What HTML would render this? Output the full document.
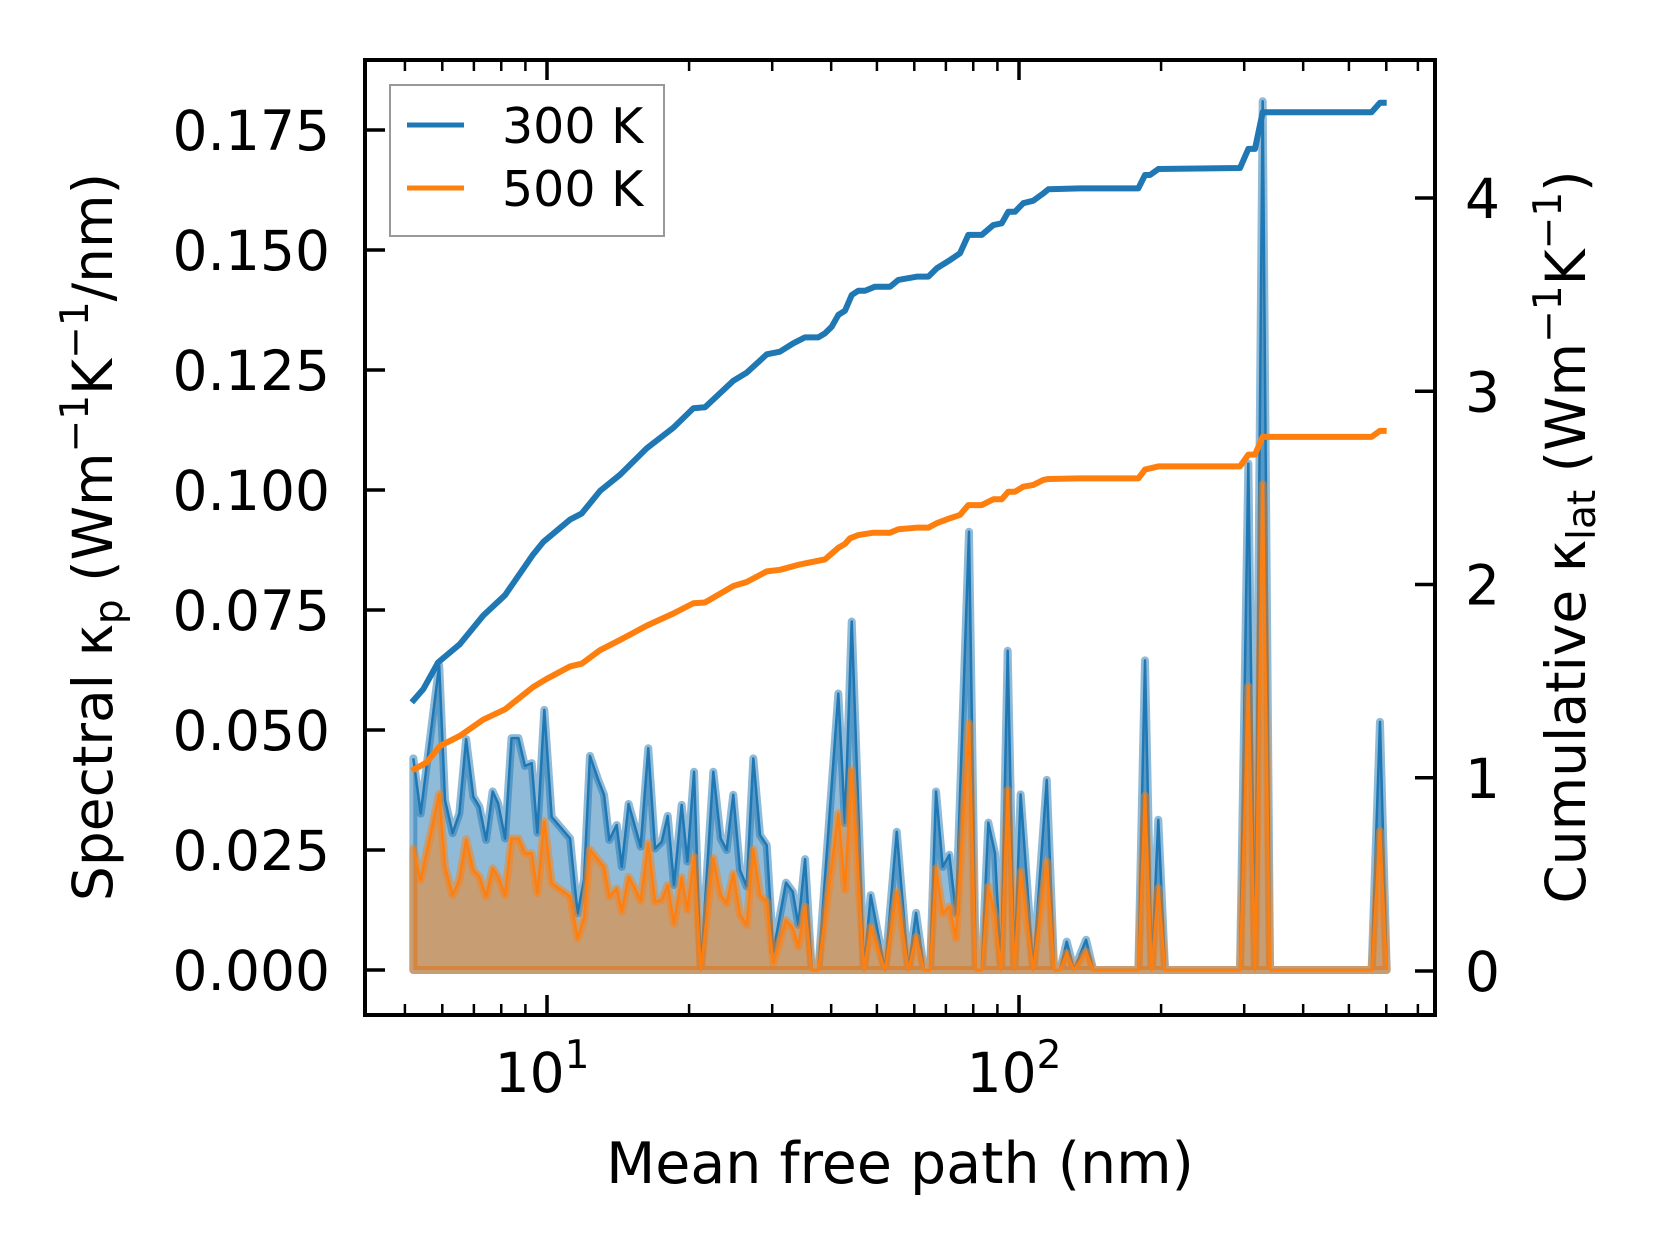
<!DOCTYPE html>
<html><head><meta charset="utf-8"><style>
html,body{margin:0;padding:0;background:#fff;}
svg{display:block;font-family:"DejaVu Sans","Liberation Sans",sans-serif;}
</style></head><body>
<svg id="chart" width="1660" height="1254" viewBox="0 0 1660 1254" xmlns="http://www.w3.org/2000/svg">
<rect width="1660" height="1254" fill="#fff"/>
<g id="marks"></g>
<g id="axes"></g>
</svg>
<script>
// ---- data ----
const mfp = [5.21,5.40,5.91,6.08,6.31,6.52,6.74,6.98,7.19,7.43,7.67,7.88,8.15,8.41,8.70,8.98,9.28,9.54,9.87,10.23,11.19,11.61,11.98,12.33,12.84,13.21,13.55,14.05,14.40,14.89,15.36,15.79,16.39,16.94,17.50,18.02,18.58,19.29,19.83,20.49,21.17,22.51,23.33,24.02,24.81,25.64,26.49,27.36,28.27,29.21,30.16,32.09,33.16,34.08,35.22,36.38,37.57,41.42,42.79,44.22,46.94,48.51,52.02,55.08,58.29,60.52,62.93,64.79,66.71,68.92,71.18,73.55,78.35,80.96,83.37,86.10,88.96,91.60,94.63,97.73,100.8,107.2,114.5,118.7,122.2,126.2,130.8,138.7,143.7,179.0,184.9,191.0,197.3,203.9,293.9,306.1,316.2,328.3,340.3,558.6,581.8,601.2];
const spec300 = [0.0441,0.0326,0.0635,0.0354,0.0285,0.0326,0.0481,0.0361,0.0340,0.0271,0.0372,0.0347,0.0274,0.0483,0.0483,0.0425,0.0431,0.0286,0.0542,0.0319,0.0274,0.0118,0.0188,0.0446,0.0396,0.0365,0.0271,0.0302,0.0215,0.0346,0.0299,0.0257,0.0462,0.0253,0.0267,0.0321,0.0177,0.0344,0.0226,0.0413,0,0.0413,0.0274,0.0250,0.0365,0.0208,0.0174,0.0441,0.0281,0.0260,0.0038,0.0182,0.0163,0.0094,0.0231,0,0,0.0576,0.0306,0.0726,0,0.0156,0,0.0288,0,0.0119,0,0,0.0372,0.0215,0.0240,0.0118,0.0913,0,0,0.0307,0.0243,0,0.0665,0,0.0366,0,0.0396,0,0,0.0059,0,0.0063,0,0,0.0645,0,0.0313,0,0,0.1055,0,0.181,0,0,0.0517,0];
const spec500 = [0.0253,0.0188,0.0367,0.0215,0.0156,0.0188,0.0272,0.0208,0.0194,0.0153,0.0212,0.0194,0.0156,0.0274,0.0274,0.0243,0.0243,0.0160,0.0310,0.0181,0.0153,0.0066,0.0108,0.0251,0.0229,0.0215,0.0153,0.0170,0.0122,0.0194,0.0170,0.0144,0.0264,0.0142,0.0146,0.0177,0.0097,0.0193,0.0125,0.0236,0,0.0233,0.0156,0.0139,0.0201,0.0115,0.0094,0.0251,0.0156,0.0142,0.0015,0.0104,0.0087,0.0049,0.0132,0,0,0.0326,0.0167,0.0417,0,0.0090,0,0.0163,0,0.0069,0,0,0.0212,0.0118,0.0132,0.0066,0.0514,0,0,0.0174,0.0111,0,0.0375,0,0.0205,0,0.0226,0,0,0.0035,0,0.0038,0,0,0.0363,0,0.0171,0,0,0.0591,0,0.1012,0,0,0.0289,0];
const cumX300 = [5.17,5.47,5.88,6.54,7.33,8.15,9.35,9.82,11.19,11.84,12.95,14.28,16.27,18.52,20.42,21.61,24.81,26.49,29.21,31.16,33.25,35.22,37.57,38.82,40.11,41.42,42.79,44.22,45.66,47.18,49.53,53.31,55.51,57.83,60.72,64.26,66.94,71.43,74.99,78.1,83.37,88.22,91.92,94.91,98.06,102.1,107.2,112.6,115.4,134.7,179,184.9,189.5,197.3,293.9,306.1,316.2,328.3,558.6,581.8,601.2];
const cum300 = [1.390,1.459,1.597,1.692,1.840,1.945,2.156,2.220,2.336,2.367,2.484,2.568,2.705,2.811,2.912,2.917,3.054,3.096,3.191,3.205,3.248,3.279,3.279,3.300,3.334,3.395,3.417,3.498,3.520,3.520,3.541,3.541,3.576,3.584,3.593,3.593,3.636,3.679,3.714,3.809,3.809,3.860,3.869,3.929,3.929,3.973,3.986,4.024,4.045,4.050,4.050,4.119,4.119,4.150,4.155,4.254,4.254,4.444,4.444,4.493,4.493];
const cumX500 = [5.17,5.56,5.93,6.54,7.33,8.15,9.35,9.99,11.19,11.84,12.95,14.28,16.27,18.52,20.42,21.61,24.81,26.49,29.21,31.16,34.36,38.82,40.11,41.42,42.79,43.85,45.66,49.13,53.31,55.51,60.72,64.26,66.94,71.43,74.99,78.1,83.37,88.22,91.92,94.91,98.06,102.1,107.2,112.6,115.4,134.7,179,184.9,197.3,293.9,306.1,316.2,328.3,558.6,581.8,601.2];
const cum500 = [1.037,1.079,1.164,1.217,1.301,1.354,1.470,1.512,1.576,1.590,1.660,1.713,1.787,1.850,1.903,1.907,1.992,2.013,2.068,2.076,2.104,2.13,2.16,2.19,2.21,2.239,2.256,2.268,2.268,2.286,2.294,2.294,2.317,2.343,2.360,2.411,2.411,2.441,2.441,2.480,2.480,2.506,2.515,2.541,2.546,2.549,2.549,2.595,2.611,2.611,2.672,2.672,2.764,2.764,2.795,2.795];
const leftTicks = [0,0.025,0.05,0.075,0.1,0.125,0.15,0.175];
const leftTickLabels = ["0.000","0.025","0.050","0.075","0.100","0.125","0.150","0.175"];
const rightTicks = [0,1,2,3,4];
const xMajor = [10,100];
const xMajorExp = ["1","2"];
const xMinor = [5,6,7,8,9,20,30,40,50,60,70,80,90,200,300,400,500,600,700];

// ---- scales ----
const L=365,R=1435,T=60,B=1015;
function xS(v){return 547+(Math.log10(v)-1)*472;}
function yL(v){return 970-v*4800;}
function yR(v){return 971-v*193.25;}
const NS="http://www.w3.org/2000/svg";
function mk(tag,attrs,parent){const e=document.createElementNS(NS,tag);for(const k in attrs)e.setAttribute(k,attrs[k]);parent.appendChild(e);return e;}
const marks=document.getElementById('marks');
const axes=document.getElementById('axes');

function spectral(vals,color,name){
  let pts=[[xS(mfp[0]),yL(0)]];
  for(let i=0;i<mfp.length;i++)pts.push([xS(mfp[i]),yL(vals[i])]);
  pts.push([xS(mfp[mfp.length-1]),yL(0)]);
  const poly=mk('polygon',{points:pts.map(p=>p.join(',')).join(' '),fill:color,'fill-opacity':0.5,stroke:color,'stroke-opacity':0.5,'stroke-width':8,'stroke-linejoin':'round'},marks);
  
  
  const line=mk('polyline',{points:mfp.map((m,i)=>xS(m)+','+yL(vals[i])).join(' '),fill:'none',stroke:color,'stroke-width':2.5,'stroke-linejoin':'round'},marks);
  
  
}
spectral(spec300,'#1f77b4','spectral-300k');
spectral(spec500,'#ff7f0e','spectral-500k');

function cumul(xs,vals,color,name){
  const l=mk('polyline',{points:xs.map((m,i)=>xS(m)+','+yR(vals[i])).join(' '),fill:'none',stroke:color,'stroke-width':6,'stroke-linejoin':'round'},marks);
  
  
}
cumul(cumX300,cum300,'#1f77b4','cumulative-300k');
cumul(cumX500,cum500,'#ff7f0e','cumulative-500k');

// ---- axes ----
const frame=mk('rect',{x:L,y:T,width:R-L,height:B-T,fill:'none',stroke:'#000','stroke-width':4},axes);


leftTicks.forEach((v,i)=>{
  const y=yL(v);
  const t=mk('line',{x1:L,x2:L+20,y1:y,y2:y,stroke:'#000','stroke-width':3.5},axes);
  
  
  const tx=mk('text',{x:330,y:y+20,'font-size':55,'text-anchor':'end',fill:'#000'},axes);
  tx.textContent=leftTickLabels[i];
  
  
});
rightTicks.forEach(v=>{
  const y=yR(v);
  const t=mk('line',{x1:R-20,x2:R,y1:y,y2:y,stroke:'#000','stroke-width':3.5},axes);
  
  
  const tx=mk('text',{x:1465,y:y+20,'font-size':55,fill:'#000'},axes);
  tx.textContent=String(v);
  
  
});
xMinor.forEach(v=>{
  const x=xS(v); if(x<L||x>R)return;
  [[B,B-11],[T,T+11]].forEach(p=>{
    const t=mk('line',{x1:x,x2:x,y1:p[0],y2:p[1],stroke:'#000','stroke-width':2.5},axes);
    
    
  });
});
xMajor.forEach((v,i)=>{
  const x=xS(v);
  [[B,B-20],[T,T+20]].forEach(p=>{
    const t=mk('line',{x1:x,x2:x,y1:p[0],y2:p[1],stroke:'#000','stroke-width':3.5},axes);
    
    
  });
  const tx=mk('text',{x:x-5,y:1092,'font-size':55,'text-anchor':'middle',fill:'#000'},axes);
  
  
  tx.innerHTML='10<tspan font-size="39" dy="-24">'+xMajorExp[i]+'</tspan>';
});
</script>
<svg style="position:absolute;left:0;top:0" width="1660" height="1254">
<g font-family="DejaVu Sans, Liberation Sans, sans-serif" fill="#000">
<text x="900" y="1183" font-size="57" text-anchor="middle">Mean free path (nm)</text>
<text transform="translate(112,537) rotate(-90)" font-size="55" text-anchor="middle">Spectral κ<tspan font-size="39" dy="10">p</tspan><tspan dy="-10"> (Wm</tspan><tspan font-size="39" dy="-24">−1</tspan><tspan dy="24">K</tspan><tspan font-size="39" dy="-24">−1</tspan><tspan dy="24">/nm)</tspan></text>
<text transform="translate(1585,537) rotate(-90)" font-size="55" text-anchor="middle">Cumulative κ<tspan font-size="39" dy="10">lat</tspan><tspan dy="-10"> (Wm</tspan><tspan font-size="39" dy="-24">−1</tspan><tspan dy="24">K</tspan><tspan font-size="39" dy="-24">−1</tspan><tspan dy="24">)</tspan></text>
<g>
<rect x="390" y="85" width="274" height="151" fill="#fff" fill-opacity="0.8" stroke="#999" stroke-width="2"/>
<line x1="407" x2="464" y1="125" y2="125" stroke="#1f77b4" stroke-width="5"/>
<text x="502" y="143" font-size="49">300 K</text>
<line x1="407" x2="464" y1="188" y2="188" stroke="#ff7f0e" stroke-width="5"/>
<text x="502" y="206" font-size="49">500 K</text>
</g>
</g>
</svg>
</body></html>
